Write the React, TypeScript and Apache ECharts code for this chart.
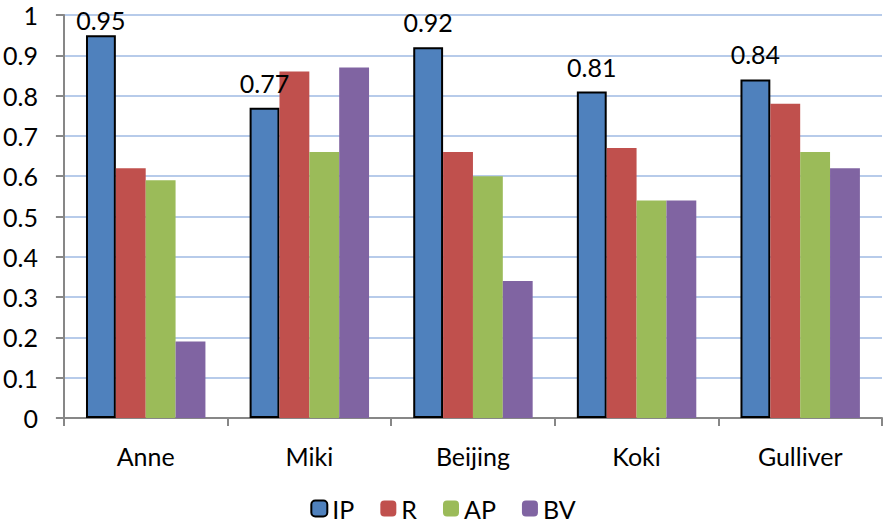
import { useRef, useEffect } from "react";
import * as echarts from "echarts";

const categories = ["Anne", "Miki", "Beijing", "Koki", "Gulliver"];
const ipValues = [0.95, 0.77, 0.92, 0.81, 0.84];
const rValues = [0.62, 0.86, 0.66, 0.67, 0.78];
const apValues = [0.59, 0.66, 0.6, 0.54, 0.66];
const bvValues = [0.19, 0.87, 0.34, 0.54, 0.62];

const FONT = "Lato, 'Liberation Sans', sans-serif";

const App = () => {
  const chartRef = useRef<HTMLDivElement>(null);

  useEffect(() => {
    if (!chartRef.current) return;
    const chart = echarts.init(chartRef.current, undefined, { renderer: "svg" });

    const bar = (name: string, data: any[], color: string, extra = {}) => ({
      name,
      type: "bar",
      data,
      barGap: "0%",
      barCategoryGap: "27%",
      itemStyle: { color },
      ...extra,
    });

    // the tallest label sits lower in the original so that it stays inside the frame
    const ipData = ipValues.map((v) =>
      v === Math.max(...ipValues) ? { value: v, label: { distance: 4 } } : v
    );

    chart.setOption({
      animation: false,
      textStyle: { fontFamily: FONT },
      grid: { left: 62, right: 4, top: 15, bottom: 110 },
      legend: {
        bottom: 2,
        itemWidth: 16,
        itemHeight: 16,
        itemGap: 26,
        textStyle: { fontSize: 25, lineHeight: 22, color: "#000", fontFamily: FONT },
        data: ["IP", "R", "AP", "BV"],
      },
      xAxis: {
        type: "category",
        data: categories,
        axisLine: { lineStyle: { color: "#878787", width: 2 } },
        axisTick: { show: true, length: 8, lineStyle: { color: "#878787", width: 2 } },
        axisLabel: { fontSize: 25, color: "#000", margin: 25, fontFamily: FONT },
      },
      yAxis: {
        type: "value",
        min: 0,
        max: 1,
        interval: 0.1,
        axisLine: { show: true, lineStyle: { color: "#878787", width: 2 } },
        axisTick: { show: true, length: 8, lineStyle: { color: "#878787", width: 2 } },
        axisLabel: {
          fontSize: 25,
          lineHeight: 20,
          color: "#000",
          margin: 26,
          fontFamily: FONT,
          formatter: (v: number) => String(Math.round(v * 10) / 10),
        },
        splitLine: { lineStyle: { color: "#B7CBEA", width: 2 } },
      },
      series: [
        bar("IP", ipData, "#4F81BD", {
          itemStyle: { color: "#4F81BD", borderColor: "#000", borderWidth: 2 },
          label: {
            show: true,
            position: "top",
            distance: 14,
            fontSize: 25,
            lineHeight: 22,
            color: "#000",
            fontFamily: FONT,
          },
        }),
        bar("R", rValues, "#C0504D"),
        bar("AP", apValues, "#9BBB59"),
        bar("BV", bvValues, "#8064A2"),
      ],
    });

    return () => chart.dispose();
  }, []);

  return (
    <div
      ref={chartRef}
      style={{ position: "absolute", left: 0, top: 0, width: "886px", height: "528px" }}
    />
  );
};

export default App;
